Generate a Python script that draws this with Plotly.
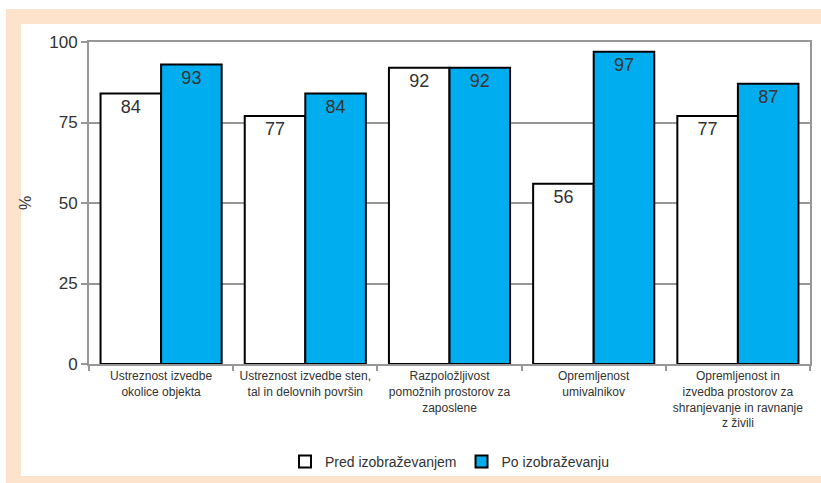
import plotly.graph_objects as go

categories = [
    "Ustreznost izvedbe<br>okolice objekta",
    "Ustreznost izvedbe sten,<br>tal in delovnih površin",
    "Razpoložljivost<br>pomožnih prostorov za<br>zaposlene",
    "Opremljenost<br>umivalnikov",
    "Opremljenost in<br>izvedba prostorov za<br>shranjevanje in ravnanje<br>z živili",
]
pred = [84, 77, 92, 56, 77]
po = [93, 84, 92, 97, 87]
series_names = ["Pred izobraževanjem", "Po izobraževanju"]
y_ticks = [0, 25, 50, 75, 100]

W, H = 821, 483
L, R, T, B = 89, 810, 42, 364
pw, ph = R - L, B - T

def px(x):
    return (x - L) / pw

def py(y):
    return (B - y) / ph

PEACH = "#FDE2CC"
BLUE = "#00ADEF"
TXT = "#333333"
GRID = "#979797"

fig = go.Figure()
fig.add_trace(go.Bar(
    x=categories, y=pred, name=series_names[0],
    marker=dict(color="white", line=dict(color="black", width=2)),
    text=pred, textposition="inside", insidetextanchor="end", textangle=0,
    textfont=dict(size=18, color=TXT), constraintext="none",
))
fig.add_trace(go.Bar(
    x=categories, y=po, name=series_names[1],
    marker=dict(color=BLUE, line=dict(color="black", width=2)),
    text=po, textposition="inside", insidetextanchor="end", textangle=0,
    textfont=dict(size=18, color=TXT), constraintext="none",
))

shapes = [
    dict(type="rect", xref="paper", yref="paper", x0=px(6), x1=px(821), y0=py(24), y1=py(9),
         fillcolor=PEACH, line=dict(width=0), layer="below"),
    dict(type="rect", xref="paper", yref="paper", x0=px(6), x1=px(21), y0=py(483), y1=py(9),
         fillcolor=PEACH, line=dict(width=0), layer="below"),
    dict(type="rect", xref="paper", yref="paper", x0=px(6), x1=px(821), y0=py(483), y1=py(476),
         fillcolor=PEACH, line=dict(width=0), layer="below"),
]

fig.update_layout(
    width=W, height=H,
    margin=dict(l=L, r=W - R, t=T, b=H - B, autoexpand=False),
    paper_bgcolor="white", plot_bgcolor="white",
    barmode="group", bargap=0.16, bargroupgap=0,
    font=dict(family="Liberation Sans, Arial, sans-serif", color=TXT),
    showlegend=True,
    legend=dict(orientation="h", x=0.5, xanchor="center", y=py(462), yanchor="middle",
                font=dict(size=14, color=TXT), itemwidth=30, traceorder="normal",
                bgcolor="rgba(0,0,0,0)"),
    shapes=shapes,
)
fig.update_xaxes(
    showline=True, linecolor=GRID, linewidth=2, mirror=True, automargin=False,
    ticks="outside", tickson="boundaries", ticklen=5, tickcolor=GRID, tickwidth=2,
    tickfont=dict(size=12, color=TXT), tickangle=0, showgrid=False,
)
fig.update_yaxes(
    range=[0, 100], tickvals=y_ticks, showline=True, linecolor=GRID, linewidth=2, mirror=True,
    automargin=False,
    ticks="outside", ticklen=6, tickcolor=GRID, tickwidth=2,
    tickfont=dict(size=17, color=TXT),
    showgrid=True, gridcolor=GRID, gridwidth=2, zeroline=False,
    title=dict(text="%", font=dict(size=16, color=TXT), standoff=14),
)

fig.write_html("out.html", config=dict(displayModeBar=False),
               post_script="document.body.style.margin='0';")
